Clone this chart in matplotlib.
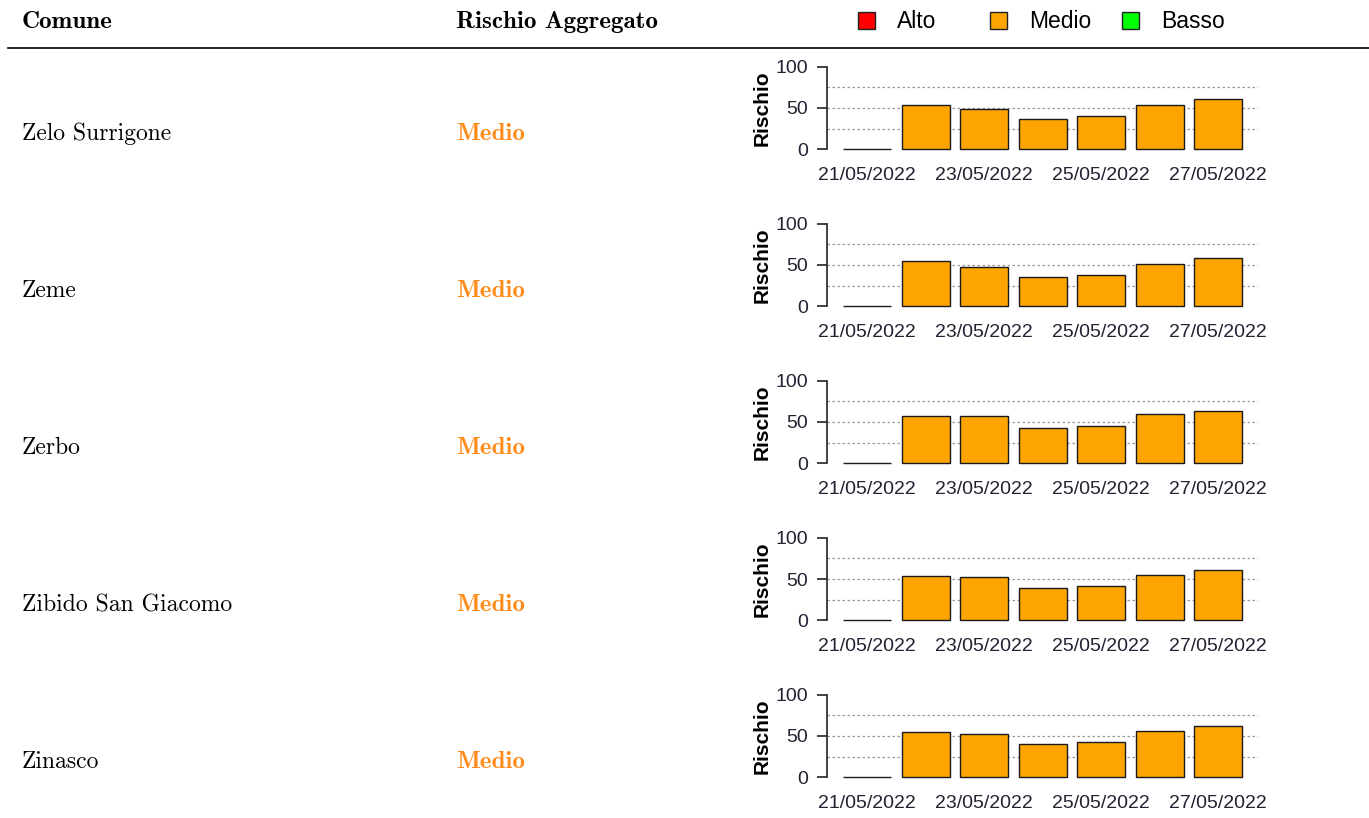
import numpy as np
import matplotlib.pyplot as plt
from matplotlib.patches import Rectangle

comuni = ["Zelo Surrigone", "Zeme", "Zerbo", "Zibido San Giacomo", "Zinasco"]
rischio_agg = ["Medio", "Medio", "Medio", "Medio", "Medio"]
date = ["21/05/2022", "22/05/2022", "23/05/2022", "24/05/2022",
        "25/05/2022", "26/05/2022", "27/05/2022"]
valori = [
    [0, 54, 49, 37, 40, 54, 61],
    [0, 55, 48, 35, 38, 51, 59],
    [0, 57, 57, 43, 45, 60, 63],
    [0, 54, 52, 39, 42, 55, 61],
    [0, 55, 52, 40, 43, 56, 62],
]
leg_labels = ["Alto", "Medio", "Basso"]
leg_colors = ["#FF0000", "#FFA500", "#00FF00"]

W, H = 1369, 818
fig = plt.figure(figsize=(W / 100, H / 100), dpi=100)

def fx(px):
    return px / W

def fy(py):
    return 1 - py / H

# header
fig.text(fx(22), fy(28), "Comune", family="cmb10", fontsize=18, va="baseline")
fig.text(fx(456), fy(28), "Rischio Aggregato", family="cmb10", fontsize=18, va="baseline")
fig.add_artist(plt.Line2D([fx(8), fx(1369)], [fy(48), fy(48)], color="black", lw=1.2))

# legend
leg_x = [858, 990, 1122]
for x, lab, c in zip(leg_x, leg_labels, leg_colors):
    fig.add_artist(Rectangle((fx(x), fy(29)), 17 / W, 17 / H, facecolor=c,
                             edgecolor="#222222", lw=1, transform=fig.transFigure))
    fig.text(fx(x + 39), fy(28), lab, family="Liberation Sans", fontsize=16.5,
             va="baseline")

x = np.arange(len(date))
for i, (nome, r, v) in enumerate(zip(comuni, rischio_agg, valori)):
    yb = 140 + 157 * i
    fig.text(fx(22), fy(yb), nome, family="cmr10", fontsize=17, va="baseline")
    fig.text(fx(456), fy(yb), r, family="cmb10", fontsize=18, va="baseline",
             color="#FF8C1A")

    top = 66.7 + 157 * i
    ax = fig.add_axes([fx(826.7), fy(top + 82.6), (1258 - 826.7) / W, 82.6 / H])
    ax.bar(x, v, width=0.82, color="#FFA500", edgecolor="#1a1a1a", lw=1,
           zorder=3, clip_on=False)
    ax.set_xlim(-0.69, 6.68)
    ax.set_ylim(0, 100)
    for g in [25, 50, 75]:
        ax.axhline(g, color="#999999", ls=(0, (2, 2)), lw=0.9, zorder=1)
    for s in ["top", "right", "bottom"]:
        ax.spines[s].set_visible(False)
    ax.spines["left"].set_linewidth(1.2)
    ax.spines["left"].set_color("#222222")
    ax.set_yticks([0, 50, 100])
    ax.set_xticks(x[::2])
    ax.set_xticklabels(date[::2])
    ax.tick_params(axis="x", length=0, pad=13, labelsize=14, labelcolor="#222233")
    ax.tick_params(axis="y", length=7.5, width=1.2, color="#222222", pad=6,
                   labelsize=14, labelcolor="#222233")
    for t in ax.get_xticklabels() + ax.get_yticklabels():
        t.set_family("Liberation Sans")
    ax.set_ylabel("Rischio", family="Liberation Sans", fontsize=15,
                  fontweight="bold", labelpad=3)

fig.savefig("out.png", dpi=100, facecolor="white")
